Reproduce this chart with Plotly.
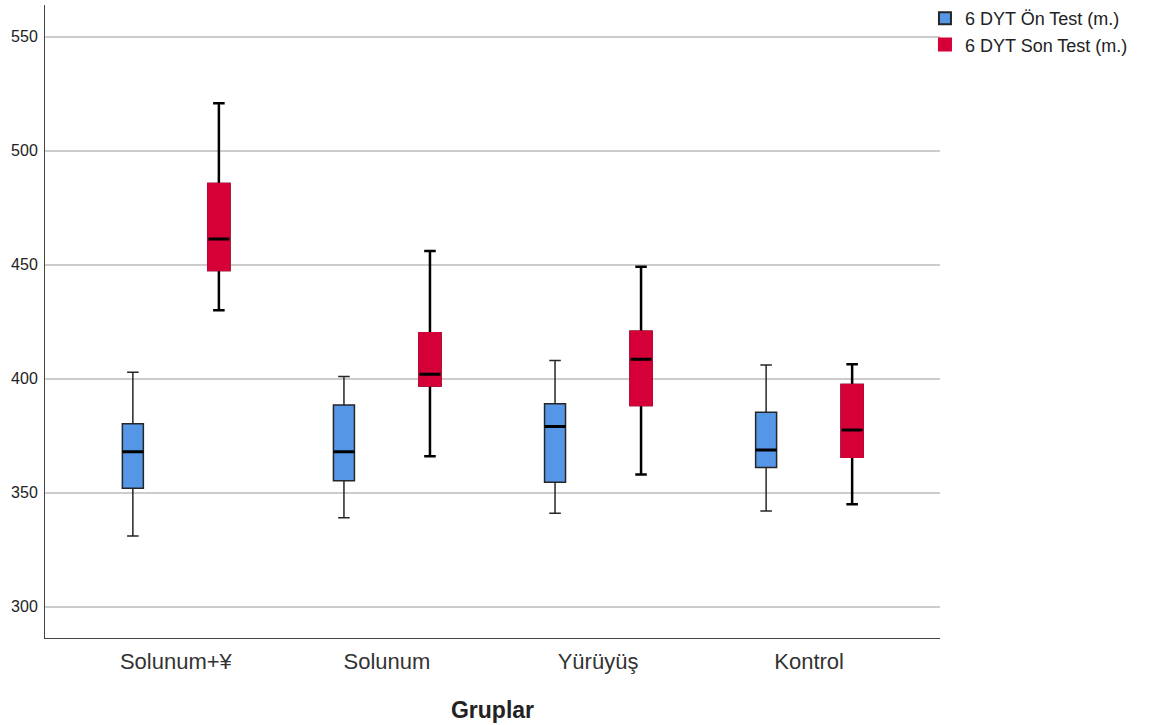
import plotly.graph_objects as go

# Groups on the x axis
groups = ["Solunum+¥", "Solunum", "Yürüyüş", "Kontrol"]

# 6 DYT pre-test (m.) box statistics per group
pre_low = [331, 339, 341, 342]
pre_q1 = [352, 355.3, 354.6, 361.1]
pre_median = [368, 368, 379, 368.7]
pre_q3 = [380.3, 388.5, 389, 385.3]
pre_high = [402.8, 401, 408, 406]

# 6 DYT post-test (m.) box statistics per group
post_low = [430, 366, 358, 345]
post_q1 = [447.7, 397, 388.5, 365.8]
post_median = [461.3, 402, 408.5, 377.5]
post_q3 = [485.4, 419.9, 420.6, 397.2]
post_high = [520.8, 456, 449.1, 406.4]

series_names = ["6 DYT Ön Test (m.)", "6 DYT Son Test (m.)"]

BLUE = "#5596E6"
RED = "#D50037"

fig = go.Figure()

# Pre-test boxes with dark outline and whiskers
fig.add_trace(go.Box(
    name=series_names[0], x=groups, offsetgroup="pre",
    q1=pre_q1, median=pre_median, q3=pre_q3,
    lowerfence=pre_low, upperfence=pre_high,
    fillcolor=BLUE, line=dict(color="#262626", width=1.5),
    whiskerwidth=0.55, boxpoints=False, hoverinfo="skip",
))

# Post-test whiskers (black), drawn underneath the red boxes
fig.add_trace(go.Box(
    name=series_names[1], x=groups, offsetgroup="post",
    q1=post_q1, median=post_median, q3=post_q3,
    lowerfence=post_low, upperfence=post_high,
    fillcolor="rgba(0,0,0,0)", line=dict(color="#000000", width=2.5),
    whiskerwidth=0.55, boxpoints=False, showlegend=False, hoverinfo="skip",
))

# Post-test boxes in red (whiskers collapsed onto the box edges)
fig.add_trace(go.Box(
    name=series_names[1], x=groups, offsetgroup="post",
    q1=post_q1, median=post_median, q3=post_q3,
    lowerfence=post_q1, upperfence=post_q3,
    fillcolor=RED, line=dict(color=RED, width=2.5),
    whiskerwidth=0, boxpoints=False, hoverinfo="skip",
))

# Thick black median bars for both series
for grp, med in (("pre", pre_median), ("post", post_median)):
    fig.add_trace(go.Box(
        name="median", x=groups, offsetgroup=grp,
        q1=med, median=med, q3=med, lowerfence=med, upperfence=med,
        fillcolor="rgba(0,0,0,0)", line=dict(color="#000000", width=3),
        whiskerwidth=0, boxpoints=False, showlegend=False, hoverinfo="skip",
    ))

fig.update_layout(
    width=1157, height=725,
    margin=dict(l=45, r=217, t=5, b=87, autoexpand=False),
    paper_bgcolor="white", plot_bgcolor="white",
    boxmode="group", boxgap=0.185, boxgroupgap=0.756,
    font=dict(family="Liberation Sans, Arial, sans-serif", color="#222222"),
    legend=dict(
        x=0.9832, y=1.008, xanchor="left", yanchor="top",
        font=dict(size=18, color="#222222"),
        itemsizing="constant", tracegroupgap=0,
        bgcolor="rgba(0,0,0,0)", borderwidth=0,
    ),
    showlegend=True,
)

fig.update_xaxes(
    type="category", categoryorder="array", categoryarray=groups,
    range=[-0.62, 3.62],
    showline=True, linecolor="#444444", linewidth=1,
    showgrid=False, ticks="", ticklabelstandoff=4,
    tickfont=dict(size=22, color="#333333"),
    title=dict(text="<b>Gruplar</b>", font=dict(size=23, color="#222222"), standoff=28),
)

fig.update_yaxes(
    range=[286.3, 563.9],
    tickvals=[300, 350, 400, 450, 500, 550],
    showline=True, linecolor="#444444", linewidth=1,
    showgrid=True, gridcolor="#CCCCCC", gridwidth=1.5,
    zeroline=False, ticks="", ticklabelstandoff=3,
    tickfont=dict(size=16, color="#222222"),
)

fig.write_html("out.html")
